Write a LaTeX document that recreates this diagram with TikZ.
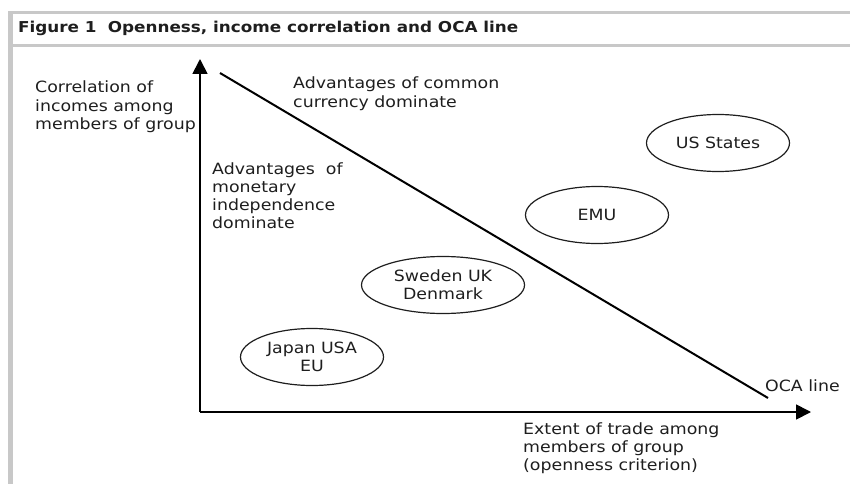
\documentclass[tikz,border=0pt]{standalone}
\usepackage{fontspec}
\setmainfont{DejaVu Sans}[FakeStretch=1.12]
\usetikzlibrary{arrows.meta,shapes.geometric}
\definecolor{framegray}{HTML}{C8C8C8}
\definecolor{inkc}{HTML}{1E1E1E}
\tikzset{
  lbl/.style={anchor=base west,inner sep=0pt,align=left,text=inkc,font=\fontsize{15.5}{18}\selectfont},
  grp/.style={ellipse,draw=inkc,line width=1.2pt,inner sep=0pt,align=center,text=inkc,font=\fontsize{15.5}{18}\selectfont},
  axis/.style={line width=1.7pt,-{Triangle[length=15pt,width=15pt]}},
  ocaline/.style={line width=2pt},
  frame/.style={draw=framegray}
}
\begin{document}
\begin{tikzpicture}[x=1pt,y=-1pt]
\useasboundingbox (0,0) rectangle (850,484);
% frame
\fill[framegray] (8,11) rectangle (13,484);
\draw[frame,line width=3pt] (8,12.5) -- (850,12.5);
\draw[frame,line width=3pt] (8,45.5) -- (850,45.5);
\node[anchor=base west,inner sep=0pt,font=\bfseries\fontsize{15}{17}\selectfont,text=inkc] (title) at (18,33) {Figure 1\hspace{0.75em}Openness, income correlation and OCA line};
% axes
\coordinate (o) at (200,412);
\coordinate (ytip) at (200,59);
\coordinate (xtip) at (811,412);
\draw[axis] (o) -- (ytip);
\draw[axis] (o) -- (xtip);
% OCA line
\coordinate (ocaA) at (220,73);
\coordinate (ocaB) at (768,398);
\draw[ocaline] (ocaA) -- (ocaB);
% labels (anchored at the baseline of the last line)
\node[lbl] (ylab) at (35,129) {Correlation of\\incomes among\\members of group};
\node[lbl] (common) at (293,107) {Advantages of common\\currency dominate};
\node[lbl] (indep) at (212,228) {Advantages\ \ of\\monetary\\independence\\dominate};
\node[lbl] (ocalab) at (765,391) {OCA line};
\node[lbl] (xlab) at (523,470) {Extent of trade among\\members of group\\(openness criterion)};
% groups
\node[grp,minimum width=143pt,minimum height=57pt] (jpn) at (312,357) {Japan USA\\EU};
\node[grp,minimum width=163pt,minimum height=57pt] (swe) at (443,285) {Sweden UK\\Denmark};
\node[grp,minimum width=143pt,minimum height=57pt] (emu) at (597,215) {EMU};
\node[grp,minimum width=143pt,minimum height=57pt] (uss) at (718,143) {US States};
\end{tikzpicture}
\end{document}
